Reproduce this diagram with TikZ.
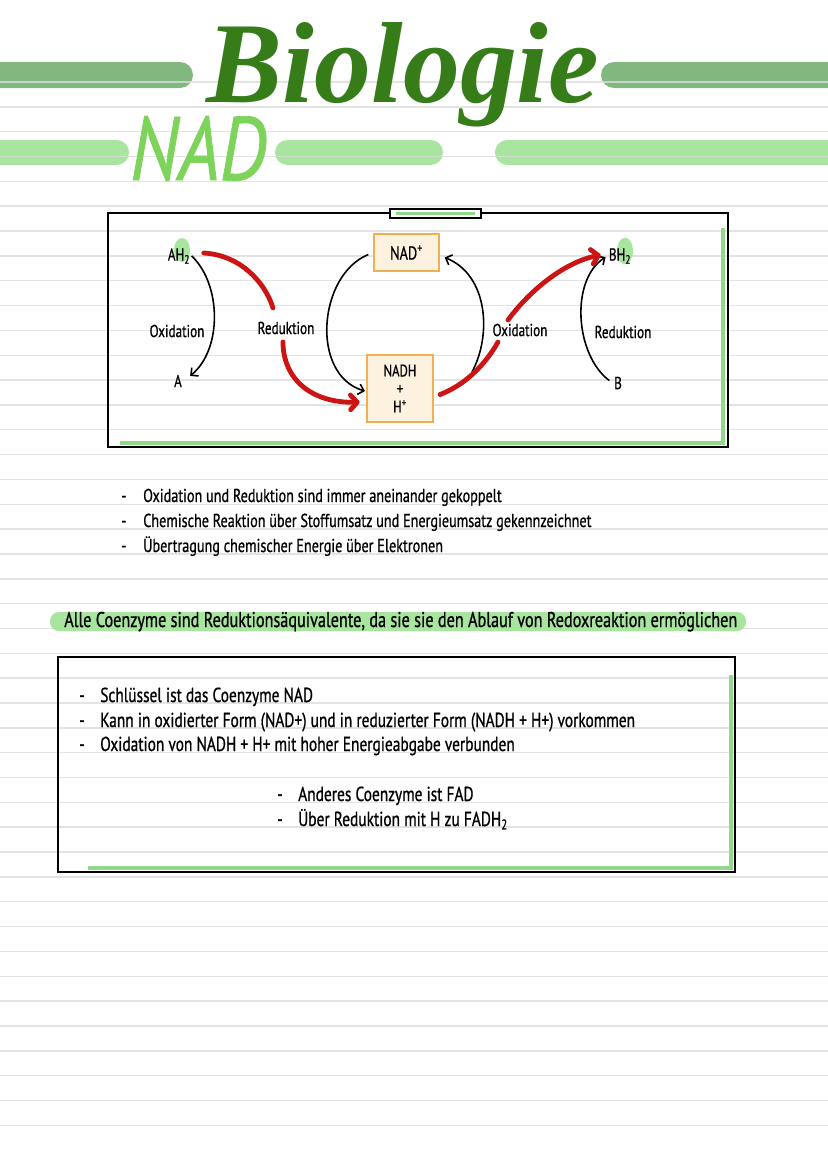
\documentclass[tikz,border=0pt]{standalone}
\usepackage{fontspec}
\usetikzlibrary{arrows.meta}
\newfontfamily\hand[FakeStretch=0.76,FakeBold=0.8]{PT Sans}
\newfontfamily\titlefont{Liberation Serif}
\definecolor{darkbar}{HTML}{80B880}
\definecolor{lightbar}{HTML}{A8E6A0}
\definecolor{rulegray}{HTML}{DDDDDD}
\definecolor{titlegreen}{HTML}{367D1A}
\definecolor{nadgreen}{HTML}{7ED45A}
\definecolor{redc}{HTML}{CC1414}
\definecolor{orangeb}{HTML}{F0B050}
\definecolor{peach}{HTML}{FDF2E0}
\definecolor{boxgreen}{HTML}{92D88C}
\definecolor{hlgreen}{HTML}{A8E6A0}
\begin{document}
\begin{tikzpicture}[x=0.75pt,y=-0.75pt,
  ruleline/.style={draw=rulegray,line width=1.1pt},
  greenline/.style={draw=boxgreen,line width=3pt},
  blk/.style={draw=black,line width=1.2pt,-{Straight Barb[length=4pt,width=8pt]}},
  redarc/.style={draw=redc,line width=3.6pt,line cap=round},
  redarr/.style={redarc,-{Straight Barb[length=5pt,width=11pt,round]}},
  lbl/.style={font=\hand\fontsize{13}{15}\selectfont,inner sep=1pt},
  nbox/.style={draw=orangeb,fill=peach,line width=1.1pt,font=\hand\fontsize{12.5}{13.5}\selectfont,align=center,inner sep=1pt},
  para/.style={anchor=base west,font=\hand\fontsize{14}{16}\selectfont,inner sep=0pt},
  parabig/.style={para,font=\hand\fontsize{15.2}{17}\selectfont},
  parahl/.style={para,font=\hand\fontsize{16}{18}\selectfont}
]
\useasboundingbox (0,0) rectangle (828,1171);
\fill[white] (0,0) rectangle (828,1171);
% title bars
\fill[darkbar,rounded corners=9.75pt] (-30,62) rectangle (193,88);
\fill[darkbar,rounded corners=9.75pt] (601,62) rectangle (860,88);
\fill[lightbar,rounded corners=9.3pt] (-30,140) rectangle (129,165);
\fill[lightbar,rounded corners=9.3pt] (275,140) rectangle (443,165);
\fill[lightbar,rounded corners=9.3pt] (495,140) rectangle (860,165);
% ruled lines
\foreach \k in {0,...,42}{\draw[ruleline,opacity=0.8] (0,{82+24.84*\k}) -- (828,{82+24.84*\k});}
% titles
\node[anchor=base,text=titlegreen,inner sep=0pt] (bio) at (403,102) {\resizebox{294pt}{60pt}{\titlefont\bfseries\itshape Biologie}};
\node[anchor=base west,text=nadgreen,inner sep=0pt] (nadtitle) at (130,180) {\resizebox{102pt}{48pt}{\hand\itshape NAD}};
% diagram box
\draw[greenline] (723,228) -- (723,443) -- (120,443);
\draw[line width=1.9pt] (108,213) rectangle (728,447);
\draw[line width=1.6pt,fill=white] (390,209) rectangle (481,218);
\draw[greenline,line width=2.4pt] (396,213.5) -- (475,213.5);
% highlights
\fill[hlgreen] (182,250) ellipse [x radius=6pt,y radius=9pt];
\fill[hlgreen] (625,251) ellipse [x radius=6pt,y radius=10pt];
% nodes
\node[lbl] (AH2) at (179,256) {AH\textsubscript{2}};
\node[lbl] (A) at (178,381) {A};
\node[lbl] (BH2) at (620,256) {BH\textsubscript{2}};
\node[lbl] (B) at (618,383) {B};
\node[lbl] (oxl) at (177,331) {Oxidation};
\node[lbl] (redl) at (286,328) {Reduktion};
\node[lbl] (oxr) at (520,330) {Oxidation};
\node[lbl] (redr) at (623,332) {Reduktion};
\node[nbox,minimum width=48.75pt,minimum height=27.75pt,font=\hand\fontsize{14}{15}\selectfont] (NAD) at (406.5,252.5) {NAD\textsuperscript{+}};
\node[nbox,minimum width=49.5pt,minimum height=50.25pt] (NADH) at (400,388.5) {NADH\\+\\H\textsuperscript{+}};
\coordinate (rA) at (273,308);
\coordinate (rB) at (283,342);
\coordinate (rC) at (498,342);
\coordinate (rD) at (508,320);
\coordinate (kB) at (472,372);
% black arrows
\draw[blk] (AH2.east) .. controls (222,285) and (222,350) .. ([xshift=5pt,yshift=-2pt]A.north east);
\draw[blk,shorten <=4pt,shorten >=1pt] (NAD.west) .. controls (318,275) and (310,375) .. (NADH.185);
\draw[blk,shorten >=4pt] (kB) .. controls (492,335) and (488,275) .. (NAD.-5);
\draw[blk,shorten <=3pt,shorten >=1.5pt] (B.west) .. controls (575,355) and (570,280) .. (BH2.west);
% red arrows
\draw[redarc] ([xshift=9pt,yshift=2.25pt]AH2.east) .. controls (240,255) and (265,282) .. (rA);
\draw[redarr,shorten >=5pt] (rB) .. controls (283,378) and (310,403) .. (NADH.202);
\draw[redarc,shorten <=5pt] (NADH.-14) .. controls (465,385) and (485,365) .. (rC);
\draw[redarr,shorten >=5pt] (rD) .. controls (530,290) and (565,262) .. (BH2.170);
% list 1
\node[para] (l1a) at (121,502) {\makebox[16.5pt][l]{-}Oxidation und Reduktion sind immer aneinander gekoppelt};
\node[para] (l1b) at (121,527) {\makebox[16.5pt][l]{-}Chemische Reaktion über Stoffumsatz und Energieumsatz gekennzeichnet};
\node[para] (l1c) at (121,552) {\makebox[16.5pt][l]{-}Übertragung chemischer Energie über Elektronen};
% highlighted sentence
\fill[lightbar,rounded corners=6.75pt] (50,612) rectangle (746,631);
\node[parahl] (alle) at (64,627) {Alle Coenzyme sind Reduktionsäquivalente, da sie sie den Ablauf von Redoxreaktion ermöglichen};
% box 2
\draw[greenline] (731,675) -- (731,868) -- (88,868);
\draw[line width=1.7pt] (58,657) rectangle (735,872);
\node[parabig] (l2a) at (79,702) {\makebox[15.75pt][l]{-}Schlüssel ist das Coenzyme NAD};
\node[parabig] (l2b) at (79,727) {\makebox[15.75pt][l]{-}Kann in oxidierter Form (NAD+) und in reduzierter Form (NADH + H+) vorkommen};
\node[parabig] (l2c) at (79,751) {\makebox[15.75pt][l]{-}Oxidation von NADH + H+ mit hoher Energieabgabe verbunden};
\node[parabig] (l2d) at (277,801) {\makebox[15.75pt][l]{-}Anderes Coenzyme ist FAD};
\node[parabig] (l2e) at (277,826) {\makebox[15.75pt][l]{-}Über Reduktion mit H zu FADH\textsubscript{2}};
\end{tikzpicture}
\end{document}
